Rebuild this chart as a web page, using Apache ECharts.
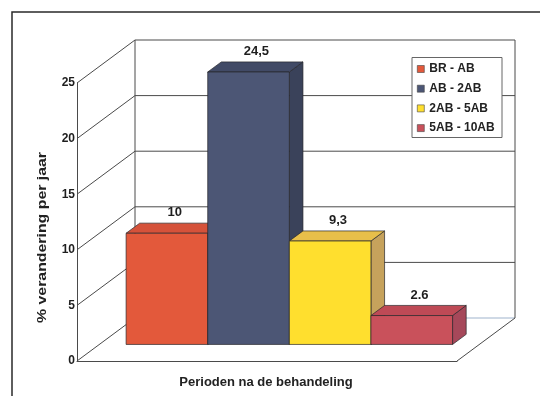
<!DOCTYPE html>
<html>
<head>
<meta charset="utf-8">
<script src="https://cdn.jsdelivr.net/npm/echarts@6/dist/echarts.min.js"></script>
<style>
  html, body { margin: 0; padding: 0; background: #ffffff; }
  #chart { width: 540px; height: 396px; }
</style>
</head>
<body>
<div id="chart"></div>
<script>
// Periods after treatment and their yearly change (%)
const periods = ['BR - AB', 'AB - 2AB', '2AB - 5AB', '5AB - 10AB'];
const changes = [10, 24.5, 9.3, 2.6];
const changeLabels = ['10', '24,5', '9,3', '2.6'];
const yTicks = [0, 5, 10, 15, 20, 25];

// Face colours of each box: front, top, side
const frontColors = ['#E3593B', '#4C5675', '#FFDF2E', '#C9515B'];
const topColors   = ['#D5523A', '#414A66', '#E8BF4A', '#BE4A56'];
const sideColors  = ['#B0442E', '#3A425A', '#C6A25C', '#A6485A'];

// Pseudo-3D geometry (pixels)
const DEPTH = [58, -43];          // full depth of the floor / walls
const BAR_FRONT = 0.385;          // bar front plane, fraction of depth
const BAR_BACK = 0.62;            // bar back plane, fraction of depth
const X_MIN = -0.328, X_MAX = 4.328;
const FONT = "'Liberation Sans', Arial, Helvetica, sans-serif";
const LINE = '#4a4a4a';

function off(p, f) { return [p[0] + DEPTH[0] * f, p[1] + DEPTH[1] * f]; }

function renderBox(idx) {
  return function (params, api) {
    const x = api.value(0), v = api.value(1);
    const bl = api.coord([x, 0]);
    const tr = api.coord([x + 1, v]);
    const xl = bl[0], xr = tr[0], yb = bl[1], yt = tr[1];
    const f0 = BAR_FRONT, f1 = BAR_BACK;
    const ftl = off([xl, yt], f0), ftr = off([xr, yt], f0), fbr = off([xr, yb], f0);
    const btl = off([xl, yt], f1), btr = off([xr, yt], f1), bbr = off([xr, yb], f1);
    const edge = { stroke: 'rgba(35,35,40,0.85)', lineWidth: 0.8, lineJoin: 'round' };
    return {
      type: 'group',
      children: [
        { type: 'polygon', shape: { points: [ftr, btr, bbr, fbr] },
          style: Object.assign({ fill: sideColors[idx] }, edge) },
        { type: 'polygon', shape: { points: [ftl, ftr, btr, btl] },
          style: Object.assign({ fill: topColors[idx] }, edge) },
        { type: 'rect', shape: { x: ftl[0], y: ftl[1], width: xr - xl, height: yb - yt },
          style: Object.assign({ fill: frontColors[idx] }, edge) },
        { type: 'text',
          style: { text: changeLabels[idx],
                   x: (ftl[0] + btr[0]) / 2 + 1, y: btl[1] - 4,
                   align: 'center', verticalAlign: 'bottom',
                   font: 'bold 13px ' + FONT, fill: '#1e1e1e' } }
      ]
    };
  };
}

// Floor, left wall and back wall with their gridlines
function renderWalls(params, api) {
  const v = api.value(0);
  const fl = api.coord([X_MIN, v]);
  const bl = off(fl, 1);
  const br = off(api.coord([X_MAX, v]), 1);
  const style = { stroke: LINE, lineWidth: 1 };
  const children = [
    { type: 'line', shape: { x1: fl[0], y1: fl[1], x2: bl[0], y2: bl[1] }, style },
    { type: 'line', shape: { x1: bl[0], y1: bl[1], x2: br[0], y2: br[1] },
      style: { stroke: v === 0 ? '#9fb3cc' : LINE, lineWidth: 1 } }
  ];
  if (params.dataIndex === 0) {
    const top = yTicks[yTicks.length - 1];
    const blTop = off(api.coord([X_MIN, top]), 1);
    const brTop = off(api.coord([X_MAX, top]), 1);
    const frBot = api.coord([X_MAX, 0]);
    const brBot = off(frBot, 1);
    children.push(
      { type: 'line', shape: { x1: bl[0], y1: bl[1], x2: blTop[0], y2: blTop[1] }, style },
      { type: 'line', shape: { x1: brBot[0], y1: brBot[1], x2: brTop[0], y2: brTop[1] }, style },
      { type: 'line', shape: { x1: frBot[0], y1: frBot[1], x2: brBot[0], y2: brBot[1] }, style }
    );
  }
  return { type: 'group', children };
}

const chart = echarts.init(document.getElementById('chart'), null, { renderer: 'canvas' });

const series = [{
  type: 'custom',
  name: 'walls',
  z: 1,
  silent: true,
  renderItem: renderWalls,
  data: yTicks.map(t => [t]),
  encode: { y: 0 }
}];
periods.forEach((name, i) => {
  series.push({
    type: 'custom',
    name: name,
    z: 2 + i,
    itemStyle: { color: frontColors[i] },
    renderItem: renderBox(i),
    data: [[i, changes[i]]],
    encode: { x: 0, y: 1 }
  });
});

chart.setOption({
  animation: false,
  backgroundColor: '#ffffff',
  grid: { left: 77, top: 83, width: 380, height: 278 },
  xAxis: {
    type: 'value', min: X_MIN, max: X_MAX,
    axisLine: { show: true, onZero: false, lineStyle: { color: LINE, width: 1 } },
    axisTick: { show: false }, axisLabel: { show: false }, splitLine: { show: false }
  },
  yAxis: {
    type: 'value', min: 0, max: 25, interval: 5,
    axisLine: { show: true, onZero: false, lineStyle: { color: LINE, width: 1 } },
    axisTick: { show: false },
    splitLine: { show: false },
    axisLabel: { margin: 2, fontFamily: FONT, fontSize: 12, fontWeight: 'bold', color: '#1e1e1e' }
  },
  legend: {
    data: periods.map(n => ({ name: n, icon: 'rect' })),
    orient: 'vertical',
    left: 417, top: 63,
    padding: 0,
    itemWidth: 7, itemHeight: 7, itemGap: 7.7,
    itemStyle: { borderColor: '#444', borderWidth: 0.6 },
    textStyle: { fontFamily: FONT, fontSize: 12, fontWeight: 'bold', color: '#222', lineHeight: 12 },
    z: 8
  },
  graphic: [
    { type: 'rect', z: 0, silent: true,
      shape: { x: 12, y: 12, width: 600, height: 500 },
      style: { fill: 'none', stroke: '#2a2a2a', lineWidth: 1.5 } },
    { type: 'rect', z: 7, silent: true,
      shape: { x: 412, y: 57.5, width: 90, height: 80 },
      style: { fill: '#ffffff', stroke: '#666', lineWidth: 1 } },
    { type: 'text', z: 7, silent: true, x: 266, y: 382,
      style: { text: 'Perioden na de behandeling', align: 'center', verticalAlign: 'middle',
               font: 'bold 13px ' + FONT, fill: '#222' } },
    { type: 'text', z: 7, silent: true, x: 42, y: 237.5, rotation: Math.PI / 2, scaleX: 1.22,
      style: { text: '% verandering per jaar', align: 'center', verticalAlign: 'middle',
               font: 'bold 13px ' + FONT, fill: '#222' } }
  ],
  series: series
});
</script>
</body>
</html>
